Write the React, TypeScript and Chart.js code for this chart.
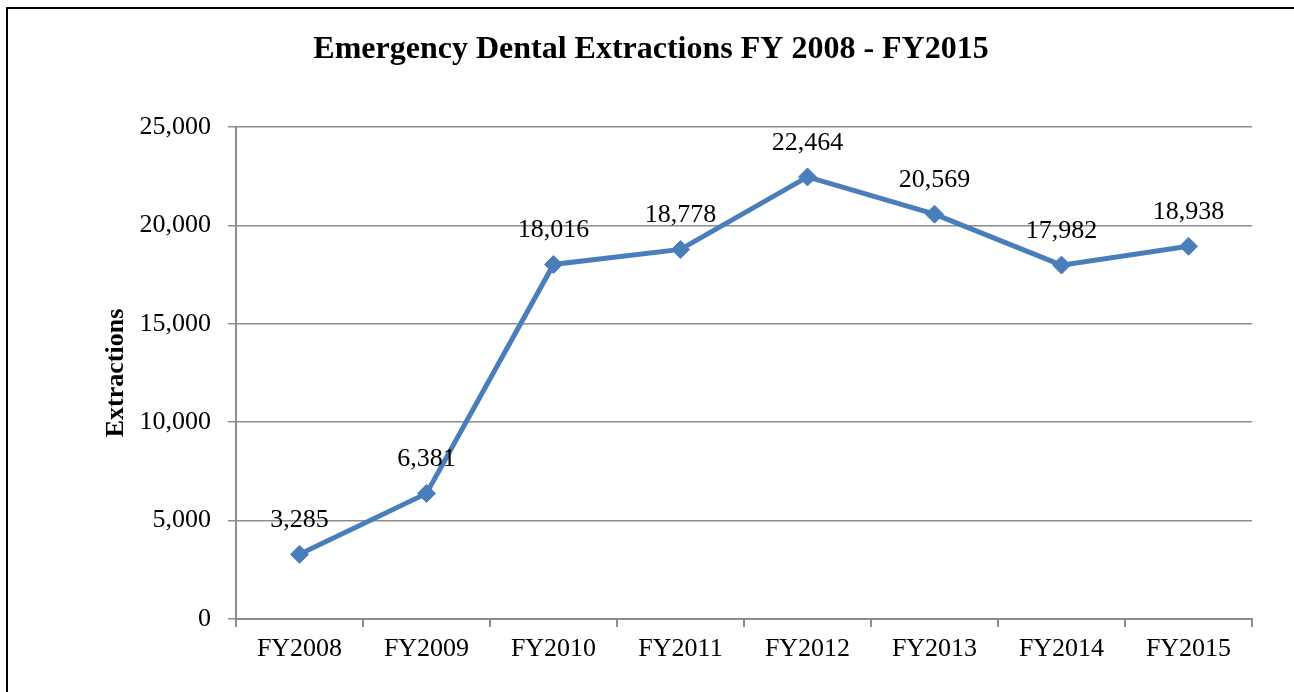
import React, { useEffect, useRef } from "react";
import { Chart, registerables } from "chart.js";

Chart.register(...registerables);

const categories = ["FY2008", "FY2009", "FY2010", "FY2011", "FY2012", "FY2013", "FY2014", "FY2015"];
const extractions = [3285, 6381, 18016, 18778, 22464, 20569, 17982, 18938];
const yTickValues = [0, 5000, 10000, 15000, 20000, 25000];
const chartTitle = "Emergency Dental Extractions FY 2008 - FY2015";
const yAxisTitle = "Extractions";

const FONT = "'Liberation Serif', 'Times New Roman', serif";
const LINE_COLOR = "#4A7EBB";
const GRID_COLOR = "#8c8c8c";

const fmt = (v: number) => v.toLocaleString("en-US");

const dataLabelPlugin = {
  id: "dataLabels",
  afterDatasetsDraw(chart: any) {
    const ctx = chart.ctx;
    const meta = chart.getDatasetMeta(0);
    const values = chart.data.datasets[0].data as number[];
    ctx.save();
    ctx.font = `26px ${FONT}`;
    ctx.fillStyle = "#000";
    ctx.textAlign = "center";
    ctx.textBaseline = "middle";
    meta.data.forEach((pt: any, i: number) => {
      ctx.fillText(fmt(values[i]), pt.x, pt.y - 34);
    });
    ctx.restore();
  },
};

export default function App() {
  const canvasRef = useRef<HTMLCanvasElement | null>(null);

  useEffect(() => {
    if (!canvasRef.current) return;
    const chart = new Chart(canvasRef.current, {
      type: "line",
      data: {
        labels: categories,
        datasets: [
          {
            data: extractions,
            borderColor: LINE_COLOR,
            backgroundColor: LINE_COLOR,
            borderWidth: 5,
            pointStyle: "rectRot",
            pointRadius: 9,
            pointBorderWidth: 1,
            pointBackgroundColor: LINE_COLOR,
            pointBorderColor: LINE_COLOR,
            tension: 0,
          },
        ],
      },
      options: {
        animation: false,
        responsive: false,
        maintainAspectRatio: false,
        layout: { padding: { left: 50, right: 42, top: 0, bottom: 0 } },
        plugins: {
          legend: { display: false },
          tooltip: { enabled: false },
          title: {
            display: true,
            text: chartTitle,
            color: "#000",
            font: { family: FONT, size: 32, weight: "bold" },
            padding: { top: 31, bottom: 57.6 },
          },
        },
        scales: {
          x: {
            offset: true,
            grid: {
              offset: true,
              drawOnChartArea: false,
              drawTicks: true,
              tickLength: 8,
              color: GRID_COLOR,
              lineWidth: 2,
            },
            border: { display: true, color: GRID_COLOR, width: 2 },
            ticks: {
              color: "#000",
              font: { family: FONT, size: 26 },
              padding: 7,
              maxRotation: 0,
              autoSkip: false,
            },
            afterFit: (s: any) => {
              s.height = 73;
            },
          },
          y: {
            min: 0,
            max: 25000,
            afterBuildTicks: (s: any) => {
              s.ticks = yTickValues.map((v) => ({ value: v }));
            },
            ticks: {
              color: "#000",
              font: { family: FONT, size: 26 },
              padding: 17,
              callback: (v: any) => fmt(Number(v)),
            },
            grid: { color: GRID_COLOR, lineWidth: 1.5, tickLength: 8 },
            border: { display: true, color: GRID_COLOR, width: 2 },
            title: {
              display: true,
              text: yAxisTitle,
              color: "#000",
              font: { family: FONT, size: 26, weight: "bold" },
              padding: { top: 51, bottom: 0 },
            },
            afterFit: (s: any) => {
              s.width = 186;
            },
          },
        },
      },
      plugins: [dataLabelPlugin],
    } as any);
    return () => chart.destroy();
  }, []);

  return (
    <>
      <div
        style={{
          position: "absolute",
          left: 6,
          top: 7,
          width: 1288,
          height: 685,
          boxSizing: "border-box",
          borderLeft: "2px solid #000",
          borderTop: "2px solid #000",
        }}
      />
      <canvas
        ref={canvasRef}
        width={1294}
        height={692}
        style={{ position: "absolute", left: 0, top: 0, width: 1294, height: 692 }}
      />
    </>
  );
}
